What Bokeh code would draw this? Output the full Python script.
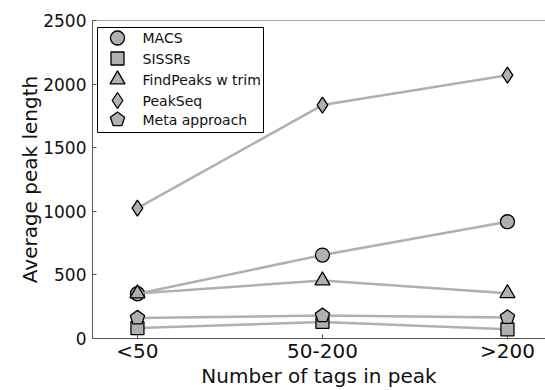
import math
from bokeh.plotting import figure
from bokeh.models import Range1d, FixedTicker, Span
from bokeh.core.properties import value
from bokeh.embed import file_html
from bokeh.resources import INLINE

# ---- data ----
categories = ["<50", "50-200", ">200"]
x_pos = [0, 1, 2]
macs = [352, 656, 918]
sissrs = [82, 130, 72]
findpeaks = [354, 456, 356]
peakseq = [1025, 1835, 2070]
meta = [162, 180, 166]
series_names = ["MACS", "SISSRs", "FindPeaks w trim", "PeakSeq", "Meta approach"]
y_ticks = [0, 500, 1000, 1500, 2000, 2500]

# ---- layout constants ----
FW, FH = 453, 318
X0, X1 = -0.243, -0.243 + FW / 185.0
Y0, Y1 = 0, 2500
GREY = "#b0b0b0"
FONT = "DejaVu Sans"

p = figure(frame_width=FW, frame_height=FH, x_range=Range1d(X0, X1), y_range=Range1d(Y0, Y1),
           output_backend="svg", toolbar_location=None,
           min_border_left=92, min_border_right=0, min_border_top=20, min_border_bottom=0)
p.outline_line_color = None
p.outline_line_alpha = 0
p.outline_line_width = 0
p.grid.visible = False
p.background_fill_color = "white"
p.border_fill_color = "white"

p.extra_x_ranges = {"px": Range1d(0, FW)}
p.extra_y_ranges = {"py": Range1d(0, FH)}

AX = "#555555"
for ax in [p.xaxis[0], p.yaxis[0]]:
    ax.axis_line_color = AX
    ax.major_tick_line_color = AX
    ax.major_tick_in = 4
    ax.major_tick_out = 0
    ax.minor_tick_line_color = None
    ax.major_label_text_font = FONT
    ax.major_label_text_color = "#111111"
    ax.axis_label_text_font = FONT
    ax.axis_label_text_font_style = "normal"
    ax.axis_label_text_color = "#111111"

p.xaxis[0].ticker = FixedTicker(ticks=x_pos)
p.xaxis[0].major_label_overrides = {x: c for x, c in zip(x_pos, categories)}
p.xaxis[0].major_label_text_font_size = "20px"
p.xaxis[0].major_label_standoff = 0
p.xaxis[0].axis_label = "Number of tags in peak"
p.xaxis[0].axis_label_text_font_size = "20px"
p.xaxis[0].axis_label_standoff = -2

p.yaxis[0].ticker = FixedTicker(ticks=y_ticks)
p.yaxis[0].major_label_text_font_size = "17px"
p.yaxis[0].major_label_standoff = 6
p.yaxis[0].axis_label = "Average peak length"
p.yaxis[0].axis_label_text_font_size = "20px"
p.yaxis[0].axis_label_standoff = -2

p.add_layout(Span(location=Y1, dimension="width", line_color=AX, line_width=1))

xs = (X1 - X0) / FW
ys = (Y1 - Y0) / FH


def pentagon(cx, cy, r, sx=1.0, sy=1.0):
    px, py = [], []
    for k in range(5):
        a = math.radians(90 + 72 * k)
        px.append(cx + r * math.cos(a) * sx)
        py.append(cy + r * math.sin(a) * sy)
    return px, py


markers = ["circle", "square", "triangle", "diamond", None]
sizes = [14, 13, 15, 16, None]
data = [macs, sissrs, findpeaks, peakseq, meta]

for vals, mk, sz in zip(data, markers, sizes):
    p.line(x_pos, vals, line_color=GREY, line_width=2.5)
    if mk is not None:
        p.scatter(x_pos, vals, marker=mk, size=sz, fill_color=GREY, line_color="black", line_width=1.3)
    else:
        pxs, pys = [], []
        for x, v in zip(x_pos, vals):
            a, b = pentagon(x, v, 7.5, xs, ys)
            pxs.append(a)
            pys.append(b)
        p.patches(pxs, pys, fill_color=GREY, line_color="black", line_width=1.3)

# ---- legend (drawn in pixel space of the frame) ----
p.quad(left=[5], right=[171], top=[FH - 7], bottom=[FH - 112], fill_color="white",
       line_color="black", line_width=1, x_range_name="px", y_range_name="py")
row_y = [FH - 17.5, FH - 38, FH - 59, FH - 80, FH - 99]
for name, mk, sz, ry in zip(series_names, markers, sizes, row_y):
    if mk is not None:
        p.scatter([25], [ry], marker=mk, size=sz, fill_color=GREY, line_color="black", line_width=1.3,
                  x_range_name="px", y_range_name="py")
    else:
        a, b = pentagon(25, ry, 7.5)
        p.patch(a, b, fill_color=GREY, line_color="black", line_width=1.3,
                x_range_name="px", y_range_name="py")
    p.text([50], [ry], text=[name], text_font=value(FONT), text_font_size="14px",
           text_baseline="middle", text_align="left", text_color="#111111",
           x_range_name="px", y_range_name="py")

open("out.html", "w").write(file_html(p, INLINE))
